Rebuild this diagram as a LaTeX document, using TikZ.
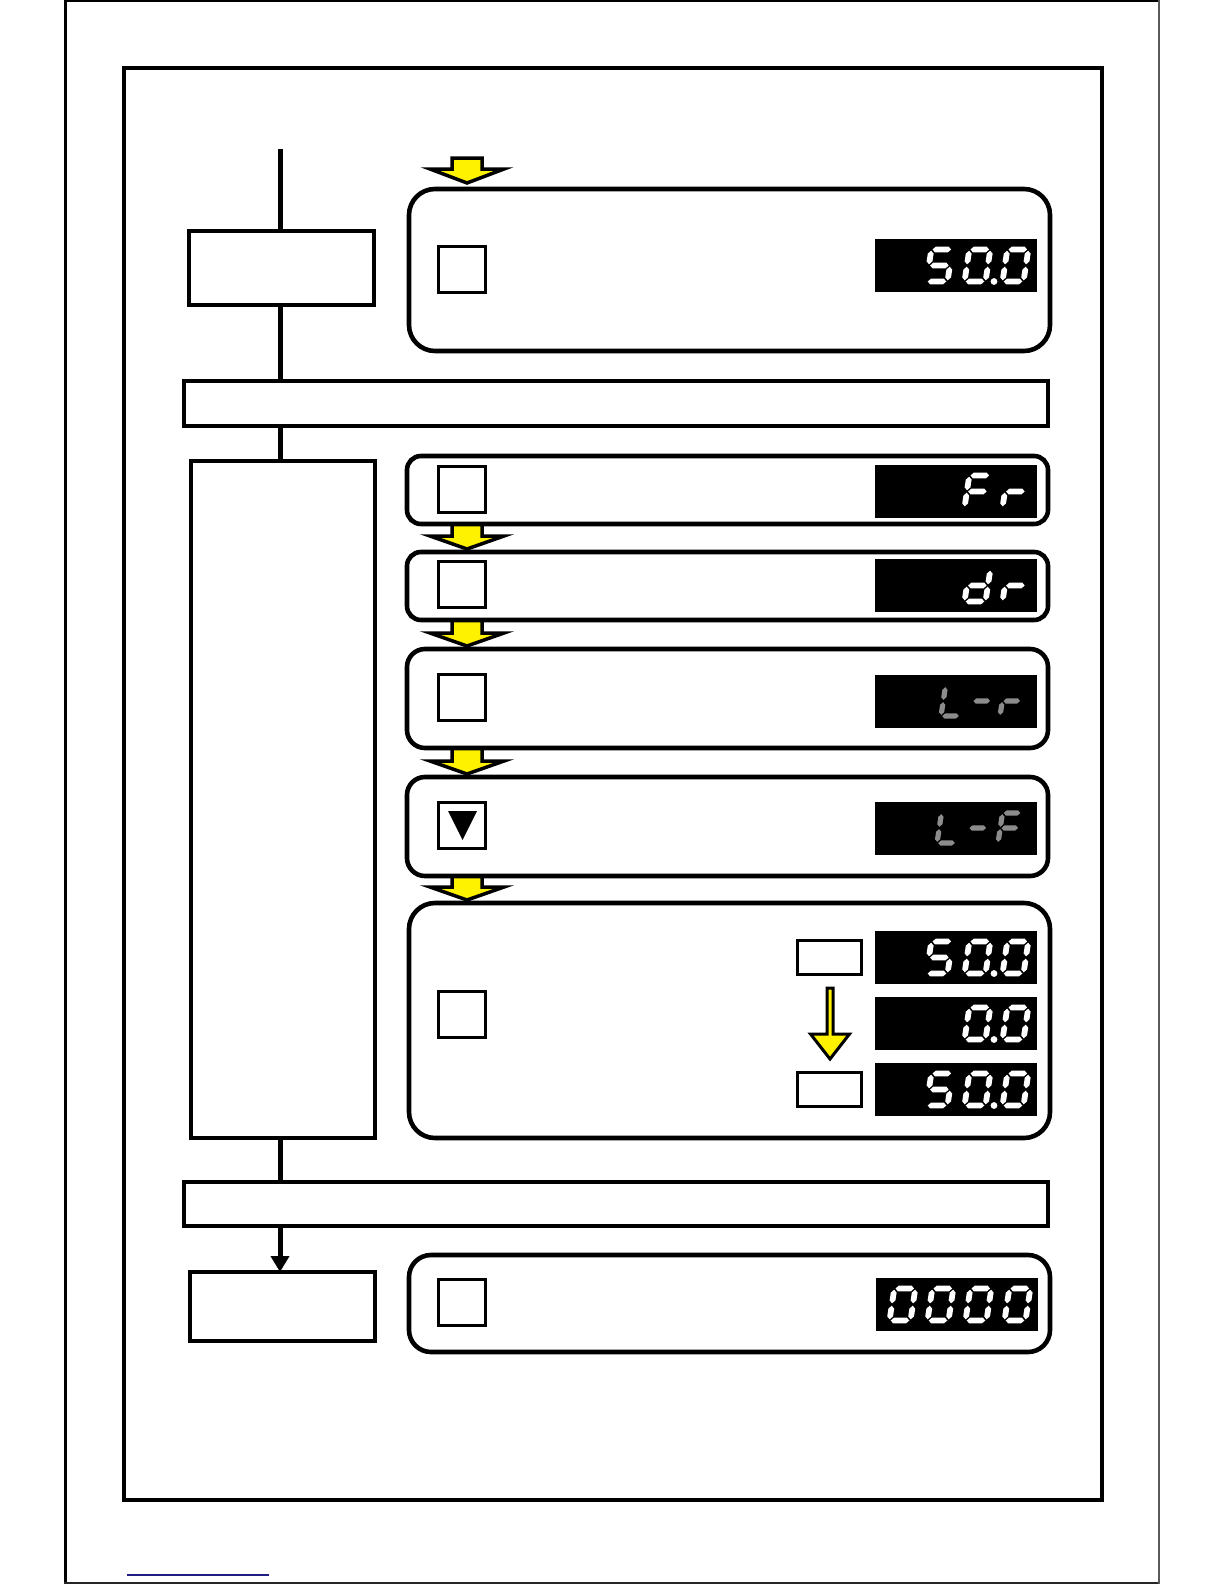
\documentclass[tikz,border=0pt]{standalone}
\usetikzlibrary{arrows.meta}
\definecolor{lnk}{RGB}{30,30,130}
\definecolor{segray}{RGB}{140,140,140}
\newcommand\dW{21}
\newcommand\dH{32}
\newcommand\dT{2.9}
\newcommand\segcol{white}
\newcommand\hseg[3]{\fill[\segcol] (#1,#3) -- (#1+\dT,#3-\dT) -- (#2-\dT,#3-\dT) -- (#2,#3) -- (#2-\dT,#3+\dT) -- (#1+\dT,#3+\dT) -- cycle;}
\newcommand\vseg[3]{\fill[\segcol] (#1,#2) -- (#1+\dT,#2+\dT) -- (#1+\dT,#3-\dT) -- (#1,#3) -- (#1-\dT,#3-\dT) -- (#1-\dT,#2+\dT) -- cycle;}
\newcommand\sega{\hseg{1.2}{\dW-1.2}{-\dH}}
\newcommand\segd{\hseg{1.2}{\dW-1.2}{0}}
\newcommand\segg{\hseg{1.2}{\dW-1.2}{-\dH/2}}
\newcommand\segb{\vseg{\dW}{-\dH+1.2}{-\dH/2-1.2}}
\newcommand\segc{\vseg{\dW}{-\dH/2+1.2}{-1.2}}
\newcommand\sege{\vseg{0}{-\dH/2+1.2}{-1.2}}
\newcommand\segf{\vseg{0}{-\dH+1.2}{-\dH/2-1.2}}
\newcommand\digit[3]{\begin{scope}[shift={(#1,#2)}, xslant=0.15]
  \foreach \s in {#3}{\csname seg\s\endcsname}
 \end{scope}}
\newcommand\gdigit[3]{\begin{scope}[shift={(#1,#2)}, xslant=0.15]
  \renewcommand\segcol{segray}\renewcommand\dW{19}\renewcommand\dH{30}\renewcommand\dT{2.6}
  \foreach \s in {#3}{\csname seg\s\endcsname}
 \end{scope}}
\newcommand\yblock[7]{\draw[yarr, line width=#7] (#1-#5,#2) -- (#1+#5,#2) -- (#1+#5,#3) -- (#1+#6,#3) -- (#1,#4) -- (#1-#6,#3) -- (#1-#5,#3) -- cycle;}
\begin{document}
\begin{tikzpicture}[x=1pt,y=-1pt,
  box/.style={draw, line width=4pt, inner sep=0pt, outer sep=0pt, anchor=north west},
  panel/.style={draw, line width=4.6pt, inner sep=0pt, outer sep=0pt, anchor=north west, minimum width=641pt},
  keysq/.style={draw, line width=3.6pt, inner sep=0pt, outer sep=0pt, anchor=north west, minimum width=47pt, minimum height=46pt},
  smallkey/.style={draw, line width=3.3pt, inner sep=0pt, outer sep=0pt, anchor=north west, minimum width=64pt, minimum height=34pt},
  disp/.style={fill=black, draw=none, inner sep=0pt, outer sep=0pt, anchor=north west, minimum width=162pt, minimum height=53pt},
  vline/.style={line width=5pt},
  yarr/.style={fill=yellow, draw=black, line join=miter},
]
\useasboundingbox (0,0) rectangle (1224,1584);
% page frame
\draw[line width=3pt] (65.5,0) -- (65.5,1584);
\draw[line width=2pt] (64,1) -- (1159,1);
\draw[line width=2pt, black!85] (64,1582.8) -- (1159,1582.8);
\draw[gray!70!black, line width=1.3pt] (1159,0) -- (1159,1584);
\draw[line width=3.5pt] (124,68) rectangle (1102,1500);
\draw[lnk, line width=1.2pt] (127,1575) -- (269,1575);

% left column
\node[box, minimum width=185pt, minimum height=74pt] (b1) at (189,231) {};
\node[box, minimum width=864pt, minimum height=45pt] (bar1) at (184,381) {};
\node[box, minimum width=184pt, minimum height=677pt] (tall) at (191,461) {};
\node[box, minimum width=864pt, minimum height=44pt] (bar2) at (184,1182) {};
\node[box, minimum width=185pt, minimum height=69pt] (b2) at (190,1272) {};
\coordinate (vtop) at (280,149);
\draw[vline] (vtop) -- (vtop |- b1.north);
\draw[vline] (vtop |- b1.south) -- (vtop |- bar1.north);
\draw[vline] (vtop |- bar1.south) -- (vtop |- tall.north);
\draw[vline] (vtop |- tall.south) -- (vtop |- bar2.north);
\draw[vline, -{Triangle[length=16pt, width=18pt]}] (vtop |- bar2.south) -- (vtop |- b2.north);

% yellow step arrows
\yblock{467}{158}{169}{183}{15}{37}{3.5pt}
\yblock{467}{524}{536}{549}{15}{37}{3.5pt}
\yblock{467}{620}{633}{646}{15}{37}{3.5pt}
\yblock{467}{748}{761}{774}{15}{37}{3.5pt}
\yblock{467}{876}{887}{900}{15}{37}{3.5pt}

% panels
\node[panel, minimum height=162pt, rounded corners=26pt] (p1) at (409,189) {};
\node[panel, minimum height=68pt, rounded corners=14pt] (p2) at (407,456) {};
\node[panel, minimum height=68pt, rounded corners=14pt] (p3) at (407,552) {};
\node[panel, minimum height=99pt, rounded corners=18pt] (p4) at (407,649) {};
\node[panel, minimum height=99pt, rounded corners=18pt] (p5) at (407,777) {};
\node[panel, minimum height=235pt, rounded corners=26pt] (p6) at (409,903) {};
\node[panel, minimum height=97pt, rounded corners=22pt] (p7) at (409,1255) {};

% key squares
\node[keysq] (s1) at (438.5,246.5) {};
\node[keysq] (s2) at (438.5,466.5) {};
\node[keysq] (s3) at (438.5,561.5) {};
\node[keysq] (s4) at (438.5,674.5) {};
\node[keysq] (s5) at (438.5,802.5) {};
\fill (448,811) -- (477,811) -- (462.5,840) -- cycle;
\node[keysq] (s6) at (438.5,991.5) {};
\node[keysq] (s7) at (438.5,1279.5) {};

% small keys and arrow in big panel
\node[smallkey] (r1) at (797.5,940.5) {};
\node[smallkey] (r2) at (797.5,1072.5) {};
\yblock{830}{988}{1034}{1059}{3}{19.5}{3pt}

% displays
\node[disp] (d1) at (875,239) {};
\node[disp] (d2) at (875,465) {};
\node[disp] (d3) at (875,559) {};
\node[disp] (d4) at (875,675) {};
\node[disp] (d5) at (875,802) {};
\node[disp] (d6a) at (875,931) {};
\node[disp] (d6b) at (875,997) {};
\node[disp] (d6c) at (875,1063) {};
\node[disp] (d7) at (876,1278) {};

% digits: 50.0
\digit{926.5}{281.5}{a,f,g,c,d}
\digit{964.5}{281.5}{a,b,c,d,e,f}
\fill[white] (994,281.5) circle (3.4pt);
\digit{1002.5}{281.5}{a,b,c,d,e,f}
% Fr
\digit{964.5}{507.5}{a,e,f,g}
\digit{1002.5}{507.5}{e,g}
% dr
\digit{964.5}{601.5}{b,c,d,e,g}
\digit{1002.5}{601.5}{e,g}
% L-r
\gdigit{941}{716}{d,e,f}
\gdigit{970}{716}{g}
\gdigit{1000}{716}{e,g}
% L-F
\gdigit{937}{843}{d,e,f}
\gdigit{966}{843}{g}
\gdigit{998}{843}{a,e,f,g}
% 50.0
\digit{926.5}{973.5}{a,f,g,c,d}
\digit{964.5}{973.5}{a,b,c,d,e,f}
\fill[white] (994,973.5) circle (3.4pt);
\digit{1002.5}{973.5}{a,b,c,d,e,f}
% 0.0
\digit{964.5}{1039.5}{a,b,c,d,e,f}
\fill[white] (994,1039.5) circle (3.4pt);
\digit{1002.5}{1039.5}{a,b,c,d,e,f}
% 50.0
\digit{926.5}{1105.5}{a,f,g,c,d}
\digit{964.5}{1105.5}{a,b,c,d,e,f}
\fill[white] (994,1105.5) circle (3.4pt);
\digit{1002.5}{1105.5}{a,b,c,d,e,f}
% 0000
\digit{889.5}{1320.5}{a,b,c,d,e,f}
\digit{927.5}{1320.5}{a,b,c,d,e,f}
\digit{965.5}{1320.5}{a,b,c,d,e,f}
\digit{1004.5}{1320.5}{a,b,c,d,e,f}
\end{tikzpicture}
\end{document}
